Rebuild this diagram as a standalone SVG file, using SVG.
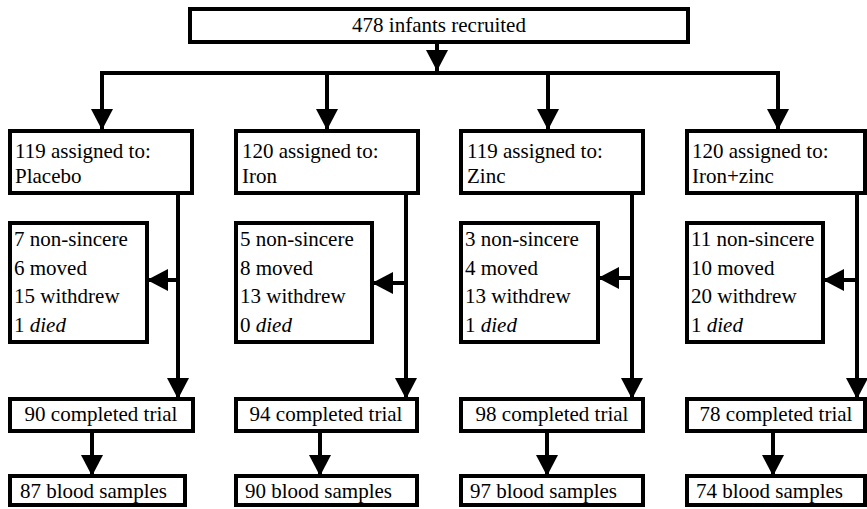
<svg xmlns="http://www.w3.org/2000/svg" width="867" height="509" viewBox="0 0 867 509">
<style>
rect{fill:#fff;stroke:#000;stroke-width:4}
text{font-family:'Liberation Serif','Times New Roman','DejaVu Serif',serif;font-size:21px;fill:#000}
.c{text-anchor:middle}
.i{font-style:italic}
#connectors line,#connectors polyline{stroke:#000;stroke-width:4;fill:none}
</style>
<defs>
<marker id="ah" markerUnits="userSpaceOnUse" markerWidth="22" markerHeight="22" viewBox="0 0 21 22" refX="21" refY="11" orient="auto">
<path d="M0,0 L21,11 L0,22 z" fill="#000"/>
</marker>
</defs>
<g id="connectors">
<line x1="437" y1="42" x2="437" y2="71" marker-end="url(#ah)"/>
<polyline points="102,130 102,73 778,73 778,130"/>
<line x1="102" y1="73" x2="102" y2="130" marker-end="url(#ah)"/>
<line x1="327" y1="73" x2="327" y2="130" marker-end="url(#ah)"/>
<line x1="548" y1="73" x2="548" y2="130" marker-end="url(#ah)"/>
<line x1="778" y1="73" x2="778" y2="130" marker-end="url(#ah)"/>
<line x1="178" y1="193" x2="178" y2="399" marker-end="url(#ah)"/>
<line x1="406" y1="193" x2="406" y2="399" marker-end="url(#ah)"/>
<line x1="632" y1="193" x2="632" y2="399" marker-end="url(#ah)"/>
<line x1="857" y1="193" x2="857" y2="399" marker-end="url(#ah)"/>
<line x1="178" y1="280" x2="147" y2="280" marker-end="url(#ah)"/>
<line x1="406" y1="283" x2="372" y2="283" marker-end="url(#ah)"/>
<line x1="632" y1="278" x2="598" y2="278" marker-end="url(#ah)"/>
<line x1="857" y1="280" x2="823" y2="280" marker-end="url(#ah)"/>
<line x1="92" y1="431" x2="92" y2="476" marker-end="url(#ah)"/>
<line x1="320" y1="431" x2="320" y2="476" marker-end="url(#ah)"/>
<line x1="547" y1="431" x2="547" y2="476" marker-end="url(#ah)"/>
<line x1="773" y1="431" x2="773" y2="476" marker-end="url(#ah)"/>
</g>
<g id="recruited"><rect x="190" y="9" width="498" height="33"/><text class="c" x="439" y="32">478 infants recruited</text></g>
<g id="placebo"><rect x="10" y="131" width="182" height="62"/><text x="15" y="158">119 assigned to:</text><text x="15" y="183">Placebo</text></g>
<g id="iron"><rect x="236" y="131" width="182" height="62"/><text x="242" y="158">120 assigned to:</text><text x="242" y="183">Iron</text></g>
<g id="zinc"><rect x="461" y="131" width="182" height="62"/><text x="467" y="158">119 assigned to:</text><text x="467" y="183">Zinc</text></g>
<g id="ironzinc"><rect x="687" y="131" width="178" height="62"/><text x="692" y="158">120 assigned to:</text><text x="692" y="183">Iron+zinc</text></g>
<g id="excl-placebo"><rect x="10" y="223" width="137" height="119"/><text x="14" y="246">7 non-sincere</text><text x="14" y="275">6 moved</text><text x="14" y="303">15 withdrew</text><text x="14" y="332">1 <tspan class="i">died</tspan></text></g>
<g id="excl-iron"><rect x="236" y="223" width="136" height="119"/><text x="240" y="246">5 non-sincere</text><text x="240" y="275">8 moved</text><text x="240" y="303">13 withdrew</text><text x="240" y="332">0 <tspan class="i">died</tspan></text></g>
<g id="excl-zinc"><rect x="461" y="223" width="137" height="119"/><text x="465" y="246">3 non-sincere</text><text x="465" y="275">4 moved</text><text x="465" y="303">13 withdrew</text><text x="465" y="332">1 <tspan class="i">died</tspan></text></g>
<g id="excl-ironzinc"><rect x="687" y="223" width="136" height="119"/><text x="691" y="246">11 non-sincere</text><text x="691" y="275">10 moved</text><text x="691" y="303">20 withdrew</text><text x="691" y="332">1 <tspan class="i">died</tspan></text></g>
<g id="comp-placebo"><rect x="10" y="399" width="183" height="32"/><text class="c" x="101" y="421">90 completed trial</text></g>
<g id="comp-iron"><rect x="236" y="399" width="181" height="32"/><text class="c" x="326" y="421">94 completed trial</text></g>
<g id="comp-zinc"><rect x="461" y="399" width="182" height="32"/><text class="c" x="552" y="421">98 completed trial</text></g>
<g id="comp-ironzinc"><rect x="687" y="399" width="178" height="32"/><text class="c" x="776" y="421">78 completed trial</text></g>
<g id="blood-placebo"><rect x="10" y="476" width="175" height="29"/><text x="20" y="498">87 blood samples</text></g>
<g id="blood-iron"><rect x="236" y="476" width="181" height="29"/><text x="245" y="498">90 blood samples</text></g>
<g id="blood-zinc"><rect x="461" y="476" width="182" height="29"/><text x="470" y="498">97 blood samples</text></g>
<g id="blood-ironzinc"><rect x="687" y="476" width="178" height="29"/><text x="696" y="498">74 blood samples</text></g>
</svg>
